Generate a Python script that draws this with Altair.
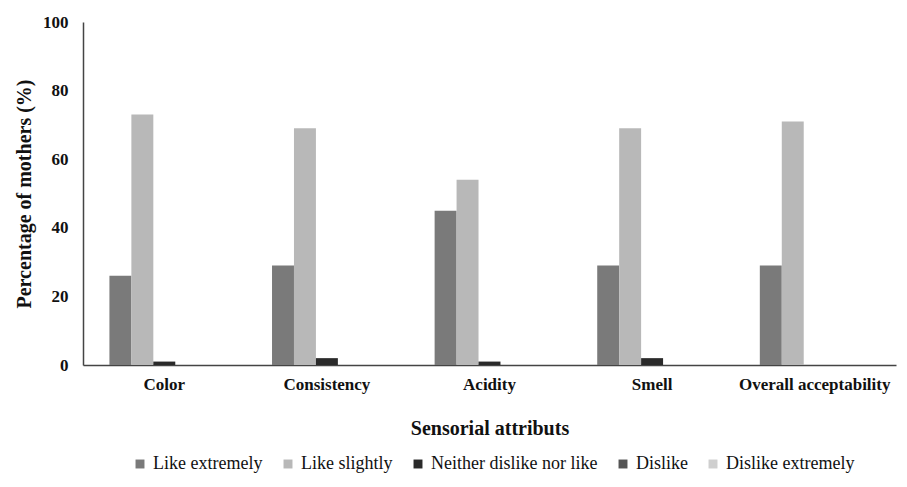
import altair as alt
import pandas as pd

attributes = ["Color", "Consistency", "Acidity", "Smell", "Overall acceptability"]
series = ["Like extremely", "Like slightly", "Neither dislike nor like", "Dislike", "Dislike extremely"]
like_extremely = [26, 29, 45, 29, 29]
like_slightly = [73, 69, 54, 69, 71]
neither = [1, 2, 1, 2, 0]
dislike = [0, 0, 0, 0, 0]
dislike_extremely = [0, 0, 0, 0, 0]
colors = ["#7a7a7a", "#b8b8b8", "#2a2a2a", "#555555", "#cfcfcf"]
y_ticks = [0, 20, 40, 60, 80, 100]

values = [like_extremely, like_slightly, neither, dislike, dislike_extremely]
rows = []
for s, vals in zip(series, values):
    for a, v in zip(attributes, vals):
        rows.append({"attribute": a, "series": s, "value": v})
df = pd.DataFrame(rows)

font = "Liberation Serif, Times New Roman, serif"

chart = alt.Chart(df).mark_bar().encode(
    x=alt.X("attribute:N", sort=attributes,
            scale=alt.Scale(paddingInner=0.325, paddingOuter=0.1625),
            axis=alt.Axis(title="Sensorial attributs", labelAngle=0, ticks=False,
                          labelPadding=11, titlePadding=26, labelFontSize=17,
                          labelFont=font, titleFont=font,
                          labelFontWeight="bold", titleFontSize=20, titleFontWeight="bold",
                          domainColor="#444444", domainWidth=1.5, labelColor="#111111",
                          titleColor="#111111")),
    xOffset=alt.XOffset("series:N", sort=series),
    y=alt.Y("value:Q", scale=alt.Scale(domain=[0, 100]),
            axis=alt.Axis(title="Percentage of mothers (%)", values=y_ticks, grid=False,
                          ticks=False, labelPadding=15, titlePadding=8, labelFontSize=17,
                          labelFont=font, titleFont=font,
                          labelFontWeight="bold", titleFontSize=20, titleFontWeight="bold",
                          domainColor="#444444", domainWidth=1.5, labelColor="#111111",
                          titleColor="#111111")),
    color=alt.Color("series:N", sort=series,
                    scale=alt.Scale(domain=series, range=colors),
                    legend=alt.Legend(title=None, orient="none", direction="horizontal",
                                      legendX=48, legendY=433, symbolType="square",
                                      symbolSize=80, labelFontSize=18, labelFont=font,
                                      labelLimit=0, labelOffset=4, columnPadding=16,
                                      padding=0, labelColor="#111111",
                                      symbolStrokeWidth=0)),
).properties(
    width=813, height=343,
    autosize=alt.AutoSizeParams(type="none"),
    padding={"left": 75, "top": 14, "right": 3, "bottom": 114},
).configure(font=font).configure_legend(
    labelFont=font, labelFontSize=18, labelLimit=0
).configure_view(stroke=None)

chart.save("out.html", embed_options={"renderer": "svg", "actions": False})
